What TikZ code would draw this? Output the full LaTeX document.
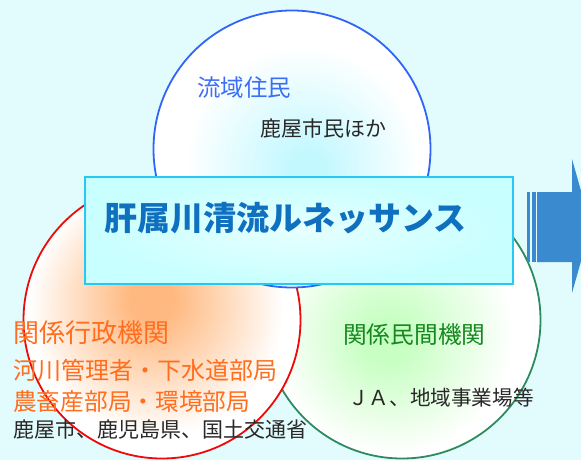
\documentclass[tikz,border=0pt]{standalone}
\usepackage{fontspec}
\newfontfamily\jpfont{Noto Sans CJK JP}
\newcommand\jpsize[1]{\jpfont\fontsize{#1}{#1}\selectfont}

\definecolor{bgcyan}{RGB}{226,251,253}
\definecolor{ringblue}{RGB}{50,100,250}
\definecolor{ringred}{RGB}{238,10,10}
\definecolor{ringgreen}{RGB}{45,140,95}
\definecolor{glowcyan}{RGB}{195,248,255}
\definecolor{glowor}{RGB}{255,185,128}
\definecolor{glowgreen}{RGB}{200,255,195}
\definecolor{boxcyan}{RGB}{200,255,255}
\definecolor{boxline}{RGB}{40,200,245}
\definecolor{titleblue}{RGB}{16,112,192}
\definecolor{txtblue}{RGB}{60,110,245}
\definecolor{txtorange}{RGB}{255,110,30}
\definecolor{txtgreen}{RGB}{20,135,30}
\definecolor{txtgray}{RGB}{40,40,40}
\definecolor{arrowblue}{RGB}{58,138,208}

\pgfdeclareradialshading{glow top}{\pgfpoint{3bp}{-4bp}}{color(0bp)=(glowcyan);
  color(3bp)=(glowcyan); color(21bp)=(white); color(50bp)=(white)}
\pgfdeclareradialshading{glow left}{\pgfpoint{-2bp}{4bp}}{color(0bp)=(glowor);
  color(4bp)=(glowor); color(23bp)=(white); color(50bp)=(white)}
\pgfdeclareradialshading{glow right}{\pgfpoint{-3bp}{-4bp}}{color(0bp)=(glowgreen);
  color(4bp)=(glowgreen); color(22bp)=(white); color(50bp)=(white)}

\tikzset{
  every ring/.style={circle, inner sep=0pt, minimum size=277pt,
    line width=1.8pt},
  ring top/.style={draw=ringblue, shading=glow top},
  ring left/.style={draw=ringred, shading=glow left},
  ring right/.style={draw=ringgreen, shading=glow right},
  every tag/.style={anchor=west, inner sep=0pt},
}

\begin{document}
\begin{tikzpicture}[x=1pt, y=-1pt]
  \useasboundingbox (0,0) rectangle (581,460);
  \fill[bgcyan] (0,0) rectangle (581,460);

  % the three partners
  \node [every ring/.try, ring right/.try](private) at (402,320) {};
  \node [every ring/.try, ring left/.try](gov) at (162,320) {};
  \node [every ring/.try, ring top/.try](residents) at (292,149) {};

  % title box
  \node [draw=boxline, line width=1.5pt, inner sep=0pt,
    minimum width=428pt, minimum height=107pt,
    inner color=white!55!boxcyan, outer color=boxcyan](title) at (299,230.5) {};
  \node [every tag/.try, font=\jpsize{33}\bfseries, text=titleblue](title-text)
    at (104,218) {肝属川清流ルネッサンス};

  % arrow out to the right
  \fill[arrowblue] (527,192) rectangle (530,262);
  \fill[arrowblue] (531.5,192) rectangle (535.5,262);
  \fill[arrowblue] (537,192) -- (572,192) -- (572,159) -- (591,226)
    -- (572,293) -- (572,262) -- (537,262) -- cycle;

  \node [every tag/.try, font=\jpsize{23.5}, text=txtblue](residents-1)
    at (197,88) {流域住民};
  \node [every tag/.try, font=\jpsize{21}, text=txtgray](residents-2)
    at (260,128) {鹿屋市民ほか};

  \foreach \t [count=\i] / \y / \s in {関係行政機関/333/26, 河川管理者・下水道部局/370/24,
      農畜産部局・環境部局/402/23.7}
    \node [every tag/.try, font=\jpsize{\s}, text=txtorange](gov-\i) at (13,\y) {\t};
  \node [every tag/.try, font=\jpsize{21}, text=txtgray](gov-4)
    at (13,430) {鹿屋市、鹿児島県、国土交通省};

  \node [every tag/.try, font=\jpsize{23.7}, text=txtgreen](private-1)
    at (343,335) {関係民間機関};
  \node [every tag/.try, font=\jpsize{20.6}, text=txtgray](private-2)
    at (348,398) {ＪＡ、地域事業場等};
\end{tikzpicture}
\end{document}
